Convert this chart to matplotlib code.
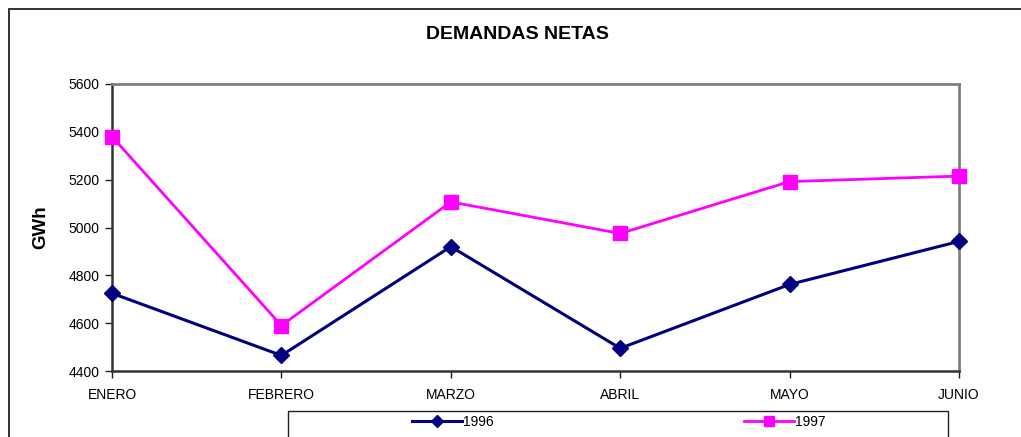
import matplotlib
matplotlib.use('Agg')
import matplotlib.pyplot as plt
from matplotlib.patches import Rectangle

MONTHS = ['ENERO', 'FEBRERO', 'MARZO', 'ABRIL', 'MAYO', 'JUNIO']
DEMAND_1996 = [4725, 4465, 4920, 4495, 4762, 4942]
DEMAND_1997 = [5380, 4590, 5107, 4975, 5192, 5215]
Y_TICKS = [4400, 4600, 4800, 5000, 5200, 5400, 5600]

plt.rcParams['font.family'] = ['Liberation Sans', 'DejaVu Sans']

fig = plt.figure(figsize=(10.21, 4.37), dpi=100)
ax = fig.add_axes([0.1097, 0.151, 0.8296, 0.6568])

x = list(range(len(MONTHS)))
ax.plot(x, DEMAND_1996, color='#000080', lw=2.2, marker='D', ms=8,
        label='1996', clip_on=False, zorder=3)
ax.plot(x, DEMAND_1997, color='#ff00ff', lw=2, marker='s', ms=9.5,
        label='1997', clip_on=False, zorder=3)

ax.set_xlim(0, len(MONTHS) - 1)
ax.set_ylim(4400, 5600)
ax.set_xticks(x)
ax.set_xticklabels(MONTHS)
ax.set_yticks(Y_TICKS)
ax.tick_params(axis='both', labelsize=10, direction='out', length=5,
               width=1, color='#222222')
ax.tick_params(axis='x', pad=7)
ax.tick_params(axis='y', pad=4)

for side in ('top', 'right'):
    ax.spines[side].set_color('#808080')
    ax.spines[side].set_linewidth(2)
for side in ('left', 'bottom'):
    ax.spines[side].set_color('#333333')
    ax.spines[side].set_linewidth(1.8)

ax.set_ylabel('GWh', fontsize=13.5, fontweight='bold', labelpad=14)
fig.text(0.507, 0.92, 'DEMANDAS NETAS', fontsize=14, fontweight='bold',
         ha='center', va='center')

# outer chart frame (runs off the right and bottom edges)
fig.patches.append(Rectangle((9 / 1021, -0.2), 1.2, 1.2 - 9 / 437,
                             transform=fig.transFigure, fill=False,
                             ec='#222222', lw=1.3))
# legend box
fig.patches.append(Rectangle((288 / 1021, -0.1), 660 / 1021, 0.1 + 26 / 437,
                             transform=fig.transFigure, fill=False,
                             ec='#222222', lw=1))
fig.legend(loc='center', bbox_to_anchor=(0.606, 15 / 437), ncol=2,
           frameon=False, fontsize=10, handlelength=3.6, handletextpad=0.1,
           columnspacing=18.0, markerscale=0.8)

fig.savefig('out.png', dpi=100)
